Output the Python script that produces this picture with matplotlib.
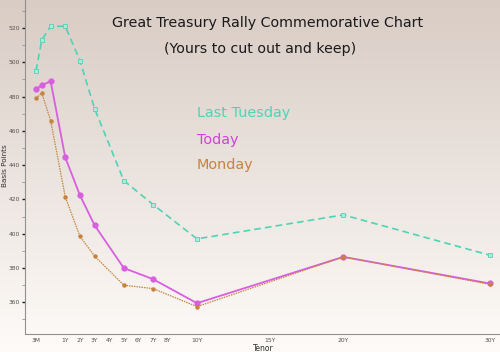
import numpy as np
import matplotlib
matplotlib.use("Agg")
import matplotlib.pyplot as plt

# tenor positions on the chart (3M drawn at -1, front points squeezed before 1Y)
tenor_x = [-1.0, -0.6, 0.0, 1, 2, 3, 5, 7, 10, 20, 30]
last_tuesday = [495, 513, 521, 521, 501, 473, 431, 417, 397, 411, 387.5]
today = [484.5, 486.5, 489, 444.5, 422.5, 405, 380, 373.5, 359.5, 386.5, 371]
monday = [479, 482, 466, 421.5, 398.5, 387, 370, 368, 357.5, 386.5, 370.5]

tick_pos = [-1, 1, 2, 3, 4, 5, 6, 7, 8, 10, 15, 20, 30]
tick_lab = ["3M", "1Y", "2Y", "3Y", "4Y", "5Y", "6Y", "7Y", "8Y", "10Y", "15Y", "20Y", "30Y"]

c_tue = "#4dd4b6"
c_today = "#d95ee0"
c_mon = "#c4843e"

fig = plt.figure(figsize=(5, 3.52), dpi=100)

# background gradient
bg = fig.add_axes([0, 0, 1, 1])
grad = np.linspace(0, 1, 256).reshape(-1, 1)
top = np.array([0.85, 0.80, 0.77])
bot = np.array([0.995, 0.985, 0.975])
img = top + (bot - top) * grad[..., None]
bg.imshow(img, aspect="auto", extent=[0, 1, 0, 1], origin="upper")
bg.axis("off")

ax = fig.add_axes([0.05, 0.051, 0.95, 0.949])
ax.patch.set_alpha(0)

ax.plot(tenor_x, last_tuesday, color=c_tue, lw=1.2, ls=(0, (4, 2.5)),
        marker="s", ms=3, mfc="#a8ecdc", mec=c_tue, mew=0.6)
ax.plot(tenor_x, today, color=c_today, lw=1.3, marker="o", ms=3.5,
        mfc=c_today, mec=c_today)
ax.plot(tenor_x, monday, color=c_mon, lw=0.9, ls=(0, (1.2, 0.8)),
        marker="o", ms=2.2, mfc=c_mon, mec=c_mon)

ax.set_xlim(-1.75, 30.7)
ax.set_ylim(341.5, 536.3)
ax.set_xticks(tick_pos)
ax.set_xticklabels(tick_lab)
ax.set_yticks(np.arange(360, 521, 20))
ax.set_yticks(np.arange(350, 536, 10), minor=True)
ax.tick_params(axis="y", which="major", length=2.5, width=1, color="#202020",
               labelsize=4.3, labelcolor="#505050", pad=1)
ax.tick_params(axis="y", which="minor", length=2, width=0.6, color="#909090")
ax.tick_params(axis="x", length=0, labelsize=4.3, labelcolor="#505050", pad=3)

for s in ["top", "right"]:
    ax.spines[s].set_visible(False)
for s in ["left", "bottom"]:
    ax.spines[s].set_color("#909090")
    ax.spines[s].set_linewidth(0.8)

fig.text(0.011, 0.53, "Basis Points", rotation=90, fontsize=5.2, color="#303030",
         ha="center", va="center")
fig.text(0.526, 0.011, "Tenor", fontsize=5.5, color="#303030", ha="center", va="center")

fig.text(0.536, 0.935, "Great Treasury Rally Commemorative Chart", fontsize=10.3,
         color="#1a1a1a", ha="center", va="center")
fig.text(0.52, 0.862, "(Yours to cut out and keep)", fontsize=10.2,
         color="#1a1a1a", ha="center", va="center")

fig.text(0.394, 0.679, "Last Tuesday", fontsize=10.4, color=c_tue, va="center")
fig.text(0.394, 0.602, "Today", fontsize=10.4, color="#d53ee0", va="center")
fig.text(0.394, 0.531, "Monday", fontsize=10.4, color=c_mon, va="center")

fig.savefig("out.png", dpi=100)
